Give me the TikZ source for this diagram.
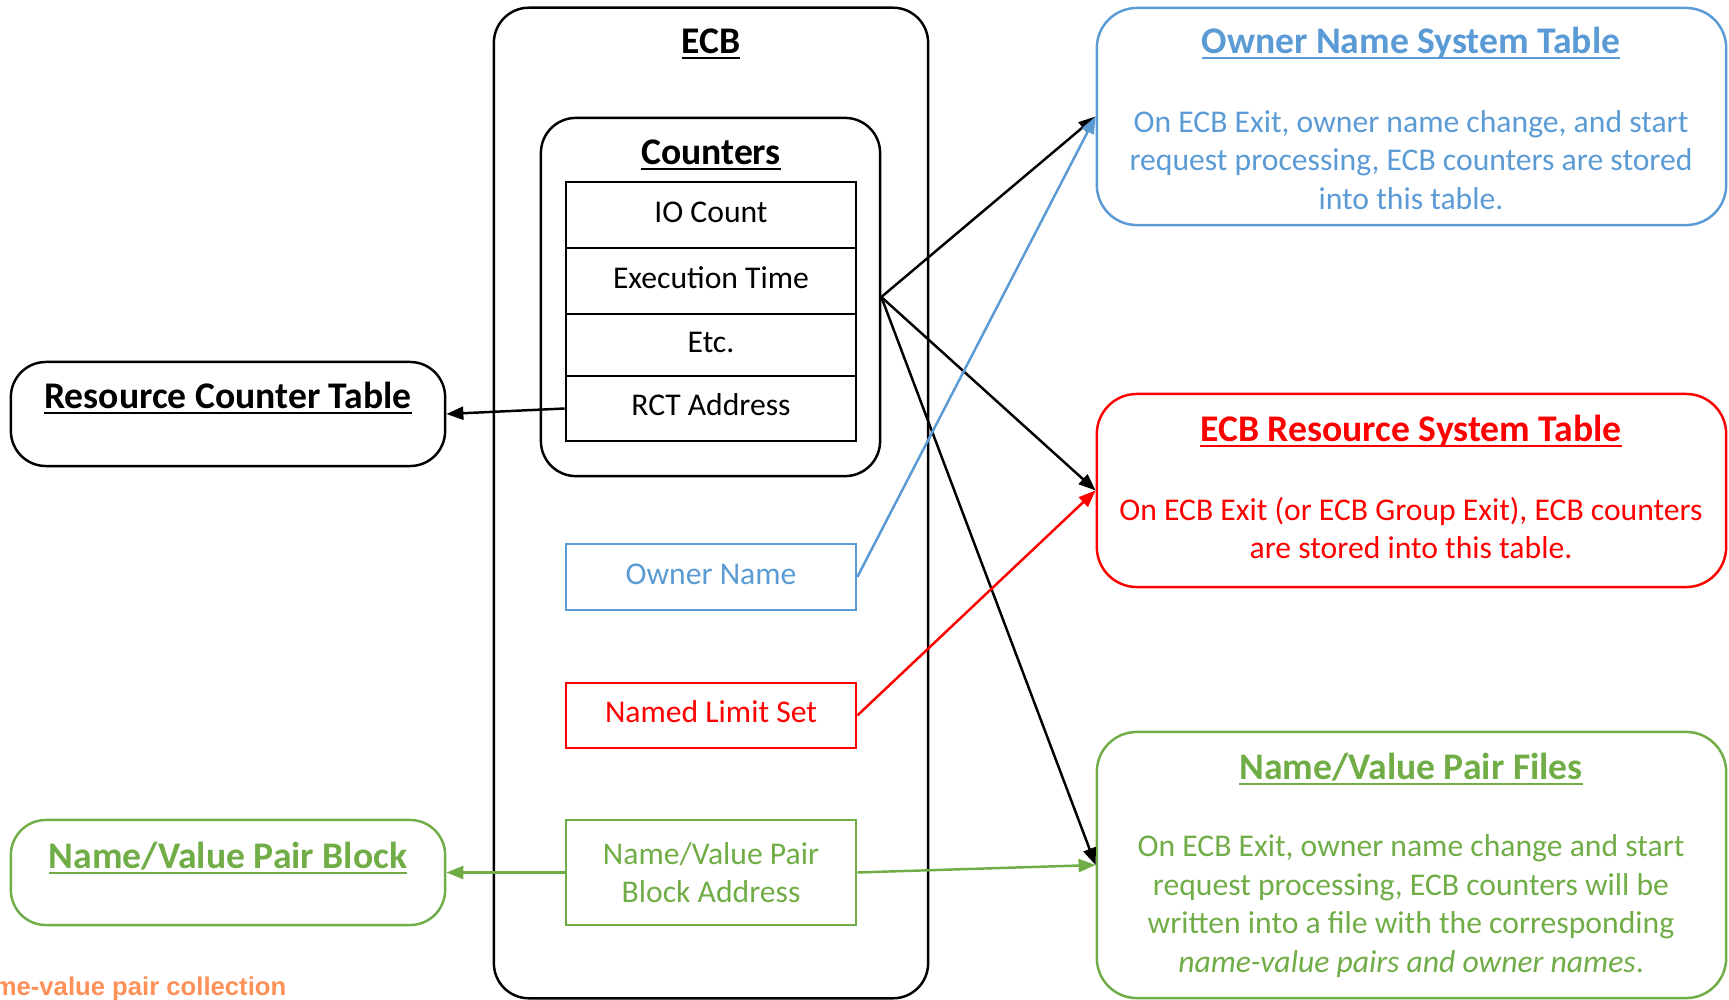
\documentclass[tikz,border=0pt]{standalone}
\usepackage{fontspec}
\setmainfont{Carlito}
\newfontfamily\notefont{Liberation Sans}
\usetikzlibrary{arrows.meta}
\definecolor{ecbBlue}{HTML}{5B9BD5}
\definecolor{ecbRed}{HTML}{FF0000}
\definecolor{ecbGreen}{HTML}{70AD47}
\definecolor{ecbOrange}{HTML}{FF9058}
\newcommand{\bodysize}{\fontsize{9}{11}\selectfont}
\newcommand{\ttlsize}{\fontsize{10.7}{13}\selectfont\bfseries}
% heavier underline for the headings
\newcommand{\ttlline}[1]{\setbox0\hbox{#1}\leavevmode\rlap{\rule[-1.7pt]{\wd0}{0.65pt}}\box0}
\tikzset{
  conn/.style    = {-{Triangle[length=1.7mm,width=1.3mm]}, line width=0.7pt},
  frame/.style   = {draw, line width=0.7pt, rounded corners=3.5mm, inner sep=0pt},
  sysbox/.style  = {draw, line width=0.7pt, rounded corners=4mm, inner sep=0pt,
                    minimum width=6.29cm},
  sidebox/.style = {draw, line width=0.7pt, rounded corners=3.5mm, inner sep=0pt,
                    minimum width=4.34cm},
  cell/.style    = {draw, line width=0.7pt, inner sep=0pt, minimum width=2.90cm,
                    align=center, font=\bodysize},
  oneline/.style = {text height=6.2pt, text depth=2pt},
  ttl/.style     = {inner sep=0pt, font=\ttlsize},
  body/.style    = {inner sep=0pt, align=center, font=\bodysize},
}

\begin{document}
\begin{tikzpicture}[x=0.01cm,y=-0.01cm]
  \useasboundingbox (0,0) rectangle (1729,1000);

  % ECB block
  \node[frame, minimum width=4.34cm, minimum height=9.90cm] (ecb) at (711,503) {};
  \node[ttl] (ecbttl) at (711,44) {\ttlline{ECB}};
  \node[frame, minimum width=3.39cm, minimum height=3.58cm] (ctr) at (710.5,297) {};
  \node[ttl] (ctrttl) at (711,155) {\ttlline{Counters}};
  \node[cell, oneline, minimum height=0.66cm] (io)  at (711,215)   {IO Count};
  \node[cell, oneline, minimum height=0.66cm] (exe) at (711,281)   {Execution Time};
  \node[cell, oneline, minimum height=0.62cm] (etc) at (711,345)   {Etc.};
  \node[cell, oneline, minimum height=0.65cm] (rca) at (711,408.5) {RCT Address};
  \node[cell, oneline, ecbBlue, minimum height=0.66cm] (own) at (711,577)   {Owner Name};
  \node[cell, oneline, ecbRed, minimum height=0.65cm]  (nls) at (711,715.5) {Named Limit Set};
  \node[cell, ecbGreen, minimum height=1.05cm] (nvb) at (711,872.5) {Name/Value Pair\\Block Address};
  \coordinate (jn) at (ctr.east);

  % left side
  \node[sidebox, minimum height=1.04cm] (rct) at (228,414) {};
  \node[ttl] (rctttl) at (228,398) {\ttlline{Resource Counter Table}};
  \node[sidebox, ecbGreen, minimum height=1.05cm] (nvp) at (228,872.5) {};
  \node[ttl, ecbGreen] (nvpttl) at (228,858) {\ttlline{Name/Value Pair Block}};
  \node[anchor=east, inner sep=0pt, text=ecbOrange, font=\notefont\fontsize{7.3}{9}\selectfont\bfseries]
    (note) at (287,989) {me-value pair collection};

  % system tables
  \node[sysbox, ecbBlue, minimum height=2.17cm] (ons) at (1411.5,116.5) {};
  \node[ttl, ecbBlue] (onsttl) at (1411,43) {\ttlline{Owner Name System Table}};
  \node[body, ecbBlue] (onsbody) at (1411,160)
    {On ECB Exit, owner name change, and start\\request processing, ECB counters are stored\\into this table.};
  \node[sysbox, ecbRed, minimum height=1.93cm] (rst) at (1411.5,490.5) {};
  \node[ttl, ecbRed] (rstttl) at (1411,431) {\ttlline{ECB Resource System Table}};
  \node[body, ecbRed] (rstbody) at (1411,528)
    {On ECB Exit (or ECB Group Exit), ECB counters\\are stored into this table.};
  \node[sysbox, ecbGreen, minimum height=2.66cm] (nvf) at (1411.5,865) {};
  \node[ttl, ecbGreen] (nvfttl) at (1411,769) {\ttlline{Name/Value Pair Files}};
  \node[body, ecbGreen] (nvfbody) at (1411,906)
    {On ECB Exit, owner name change and start\\request processing, ECB counters will be\\written into a file with the corresponding\\\textit{name-value pairs and owner names}.};

  % connectors
  \draw[conn] (jn) -- (ons.west);
  \draw[conn] (jn) -- (rst.west);
  \draw[conn] (jn) -- (nvf.west);
  \draw[conn, ecbBlue] (own.east) -- (ons.west);
  \draw[conn, ecbRed] (nls.east) -- (rst.west);
  \draw[conn, ecbGreen] (nvb.east) -- (nvf.west);
  \draw[conn] (rca.west) -- (rct.east);
  \draw[conn, ecbGreen] (nvb.west) -- (nvp.east);
\end{tikzpicture}
\end{document}
